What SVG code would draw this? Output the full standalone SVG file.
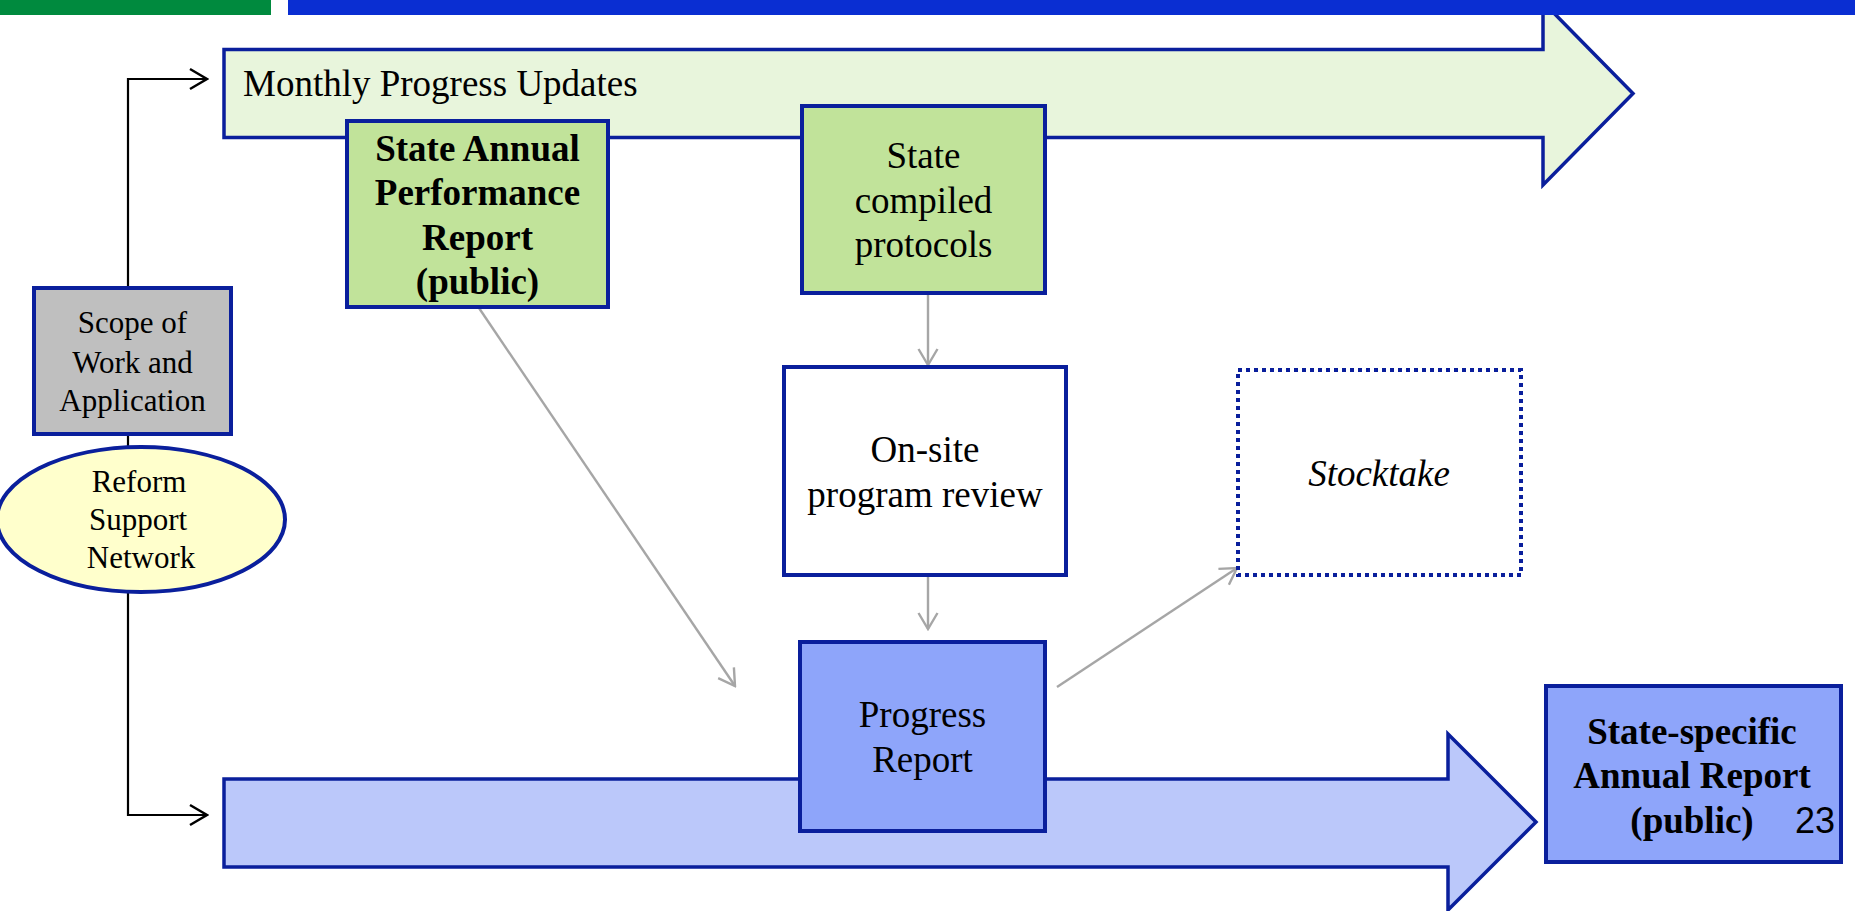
<svg xmlns="http://www.w3.org/2000/svg" width="1855" height="911" viewBox="0 0 1855 911">
<style>
.t{font-family:"Liberation Serif","Times New Roman",serif;fill:#000;text-anchor:middle}
.b{font-weight:bold}
.box{stroke:#0A1F9C;stroke-width:4}
.arr{stroke:#0A1F9C;stroke-width:3.5;stroke-linejoin:miter}
.blk{fill:none;stroke:#000;stroke-width:2.2}
.gry{fill:none;stroke:#A6A6A6;stroke-width:2.4}
</style>
<defs>
<marker id="mb" markerUnits="userSpaceOnUse" viewBox="-20 -12 22 24" markerWidth="22" markerHeight="24" refX="0" refY="0" orient="auto">
<path d="M-17,-10 L0,0 L-17,10" fill="none" stroke="#000" stroke-width="2.5"/>
</marker>
<marker id="mg" markerUnits="userSpaceOnUse" viewBox="-20 -12 22 24" markerWidth="22" markerHeight="24" refX="0" refY="0" orient="auto">
<path d="M-16,-9.5 L0,0 L-16,9.5" fill="none" stroke="#A6A6A6" stroke-width="2.4"/>
</marker>
</defs>
<rect width="1855" height="911" fill="#fff"/>

<g id="connectors">
<path class="blk" d="M128,288 L128,79 L207,79" marker-end="url(#mb)"/>
<path class="blk" d="M128,434 L128,815 L207,815" marker-end="url(#mb)"/>
<path class="gry" d="M479,308 L735,686" marker-end="url(#mg)"/>
<path class="gry" d="M928,293 L928,365" marker-end="url(#mg)"/>
<path class="gry" d="M928,575 L928,629" marker-end="url(#mg)"/>
<path class="gry" d="M1057,687 L1237,568" marker-end="url(#mg)"/>
</g>

<g id="monthly-arrow">
<polygon class="arr" fill="#E8F5DC" points="224,49.5 1543,49.5 1543,2 1633,93.5 1543,185 1543,137.5 224,137.5"/>
<text class="t" x="243" y="96" font-size="37" style="text-anchor:start">Monthly Progress Updates</text>
</g>

<g id="top-bars">
<rect x="0" y="0" width="271" height="15" fill="#008A3E"/>
<rect x="288" y="0" width="1567" height="15" fill="#0A2ED2"/>
</g>

<g id="state-annual">
<rect class="box" x="347" y="121" width="261" height="186" fill="#C1E39A"/>
<text class="t b" font-size="37" x="477.5" y="161">State Annual</text>
<text class="t b" font-size="37" x="477.5" y="205">Performance</text>
<text class="t b" font-size="37" x="477.5" y="250">Report</text>
<text class="t b" font-size="37" x="477.5" y="294">(public)</text>
</g>

<g id="state-compiled">
<rect class="box" x="802" y="106" width="243" height="187" fill="#C1E39A"/>
<text class="t" font-size="37" x="923.5" y="168">State</text>
<text class="t" font-size="37" x="923.5" y="213">compiled</text>
<text class="t" font-size="37" x="923.5" y="257">protocols</text>
</g>

<g id="scope">
<rect class="box" x="34" y="288" width="197" height="146" fill="#BFBFBF"/>
<text class="t" font-size="31" x="132.5" y="333">Scope of</text>
<text class="t" font-size="31" x="132.5" y="373">Work and</text>
<text class="t" font-size="31" x="132.5" y="411">Application</text>
</g>

<g id="reform">
<ellipse class="box" cx="141" cy="519.5" rx="144" ry="72.5" fill="#FFFFCC"/>
<text class="t" font-size="31" x="139" y="492">Reform</text>
<text class="t" font-size="31" x="138" y="530">Support</text>
<text class="t" font-size="31" x="141" y="568">Network</text>
</g>

<g id="onsite">
<rect class="box" x="784" y="367" width="282" height="208" fill="#fff"/>
<text class="t" font-size="37" x="925" y="462">On-site</text>
<text class="t" font-size="37" x="925" y="507">program review</text>
</g>

<g id="stocktake">
<rect x="1238" y="370" width="283" height="205" fill="#fff" stroke="#0A1F9C" stroke-width="4" stroke-dasharray="4 4"/>
<text class="t" font-size="37" font-style="italic" x="1379" y="486">Stocktake</text>
</g>

<g id="bottom-arrow">
<polygon class="arr" fill="#BBC8FA" points="224,779 1448,779 1448,734 1536,822 1448,910 1448,867 224,867"/>
</g>

<g id="progress">
<rect class="box" x="800" y="642" width="245" height="189" fill="#8EA5FA"/>
<text class="t" font-size="37" x="922.5" y="727">Progress</text>
<text class="t" font-size="37" x="922.5" y="772">Report</text>
</g>

<g id="state-specific">
<rect class="box" x="1546" y="686" width="295" height="176" fill="#8EA5FA"/>
<text class="t b" font-size="37" x="1692" y="744">State-specific</text>
<text class="t b" font-size="37" x="1692" y="788">Annual Report</text>
<text class="t b" font-size="37" x="1692" y="833">(public)</text>
<text font-family="Liberation Sans, Arial, sans-serif" font-size="36" x="1795" y="833" fill="#000">23</text>
</g>
</svg>
